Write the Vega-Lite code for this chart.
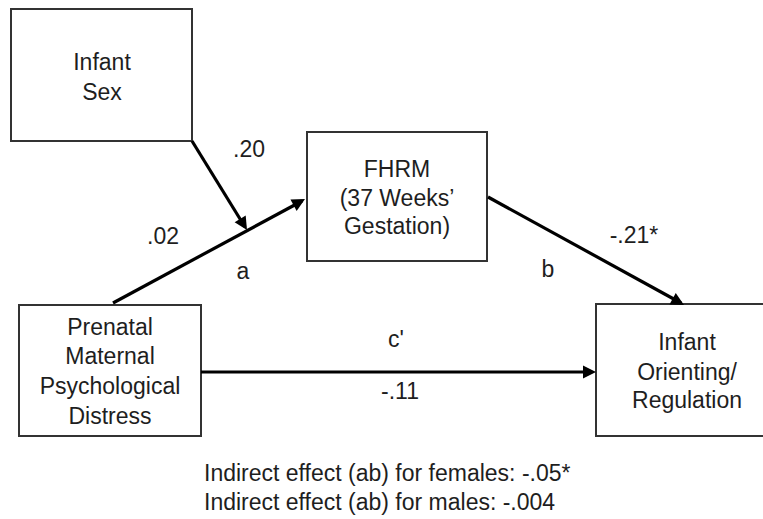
{
  "$schema": "https://vega.github.io/schema/vega-lite/v6.json",
  "width": 763,
  "height": 519,
  "autosize": {"type": "fit", "contains": "padding"},
  "padding": 0,
  "background": "white",
  "config": {"view": {"stroke": null}, "text": {"font": "Liberation Sans"}},
  "datasets": {
    "boxes": [
      {"node": "Infant Sex", "x1": 11, "x2": 192, "y1": 9, "y2": 141},
      {"node": "FHRM", "x1": 307, "x2": 487, "y1": 132, "y2": 261},
      {"node": "Prenatal Maternal Psychological Distress", "x1": 19, "x2": 201, "y1": 305, "y2": 436},
      {"node": "Infant Orienting/Regulation", "x1": 596, "x2": 775, "y1": 304, "y2": 436}
    ],
    "paths": [
      {"path": "moderator", "x1": 192, "y1": 141, "x2": 245, "y2": 227, "tx": 247, "ty": 230, "angle": 58.3},
      {"path": "a", "x1": 113, "y1": 303, "x2": 302, "y2": 201, "tx": 305, "ty": 199, "angle": 331.6},
      {"path": "b", "x1": 488, "y1": 197, "x2": 681, "y2": 303, "tx": 684, "ty": 305, "angle": 28.9},
      {"path": "c'", "x1": 201, "y1": 372, "x2": 592, "y2": 372, "tx": 596, "ty": 372, "angle": 0}
    ],
    "labels": [
      {"t": "Infant", "x": 102, "y": 63, "align": "center"},
      {"t": "Sex", "x": 102, "y": 93, "align": "center"},
      {"t": "FHRM", "x": 397, "y": 170, "align": "center"},
      {"t": "(37 Weeks’", "x": 397, "y": 199, "align": "center"},
      {"t": "Gestation)", "x": 397, "y": 227, "align": "center"},
      {"t": "Prenatal", "x": 110, "y": 328, "align": "center"},
      {"t": "Maternal", "x": 110, "y": 357, "align": "center"},
      {"t": "Psychological", "x": 110, "y": 387, "align": "center"},
      {"t": "Distress", "x": 110, "y": 417, "align": "center"},
      {"t": "Infant", "x": 687, "y": 343, "align": "center"},
      {"t": "Orienting/", "x": 687, "y": 373, "align": "center"},
      {"t": "Regulation", "x": 687, "y": 401, "align": "center"},
      {"t": ".20", "x": 249, "y": 150, "align": "center"},
      {"t": ".02", "x": 163, "y": 237, "align": "center"},
      {"t": "a", "x": 243, "y": 272, "align": "center"},
      {"t": "b", "x": 548, "y": 270, "align": "center"},
      {"t": "-.21*", "x": 634, "y": 236, "align": "center"},
      {"t": "c'", "x": 396, "y": 340, "align": "center"},
      {"t": "-.11", "x": 400, "y": 392, "align": "center"},
      {"t": "Indirect effect (ab) for females: -.05*", "x": 204, "y": 474, "align": "left"},
      {"t": "Indirect effect (ab) for males: -.004", "x": 204, "y": 503, "align": "left"}
    ]
  },
  "layer": [
    {
      "data": {"name": "boxes"},
      "mark": {"type": "rect", "fill": "white", "stroke": "#333333", "strokeWidth": 2, "clip": true},
      "encoding": {
        "x": {"field": "x1", "type": "quantitative", "scale": {"domain": [0, 763], "nice": false, "zero": false}, "axis": null},
        "x2": {"field": "x2"},
        "y": {"field": "y1", "type": "quantitative", "scale": {"domain": [0, 519], "nice": false, "zero": false, "reverse": true}, "axis": null},
        "y2": {"field": "y2"}
      }
    },
    {
      "data": {"name": "paths"},
      "mark": {"type": "rule", "stroke": "#000000", "strokeWidth": 3.2},
      "encoding": {
        "x": {"field": "x1", "type": "quantitative"},
        "x2": {"field": "x2"},
        "y": {"field": "y1", "type": "quantitative"},
        "y2": {"field": "y2"}
      }
    },
    {
      "data": {"name": "paths"},
      "mark": {"type": "point", "shape": "M0,0L-1,-0.5L-1,0.5Z", "filled": true, "fill": "#000000", "opacity": 1, "size": 676, "strokeWidth": 0},
      "encoding": {
        "x": {"field": "tx", "type": "quantitative"},
        "y": {"field": "ty", "type": "quantitative"},
        "angle": {"field": "angle", "type": "quantitative", "scale": null}
      }
    },
    {
      "data": {"name": "labels"},
      "transform": [{"filter": "datum.align === 'center'"}],
      "mark": {"type": "text", "fontSize": 23, "color": "#1e1e1e", "baseline": "middle", "align": "center"},
      "encoding": {
        "x": {"field": "x", "type": "quantitative"},
        "y": {"field": "y", "type": "quantitative"},
        "text": {"field": "t"}
      }
    },
    {
      "data": {"name": "labels"},
      "transform": [{"filter": "datum.align === 'left'"}],
      "mark": {"type": "text", "fontSize": 23, "color": "#1e1e1e", "baseline": "middle", "align": "left"},
      "encoding": {
        "x": {"field": "x", "type": "quantitative"},
        "y": {"field": "y", "type": "quantitative"},
        "text": {"field": "t"}
      }
    }
  ]
}
